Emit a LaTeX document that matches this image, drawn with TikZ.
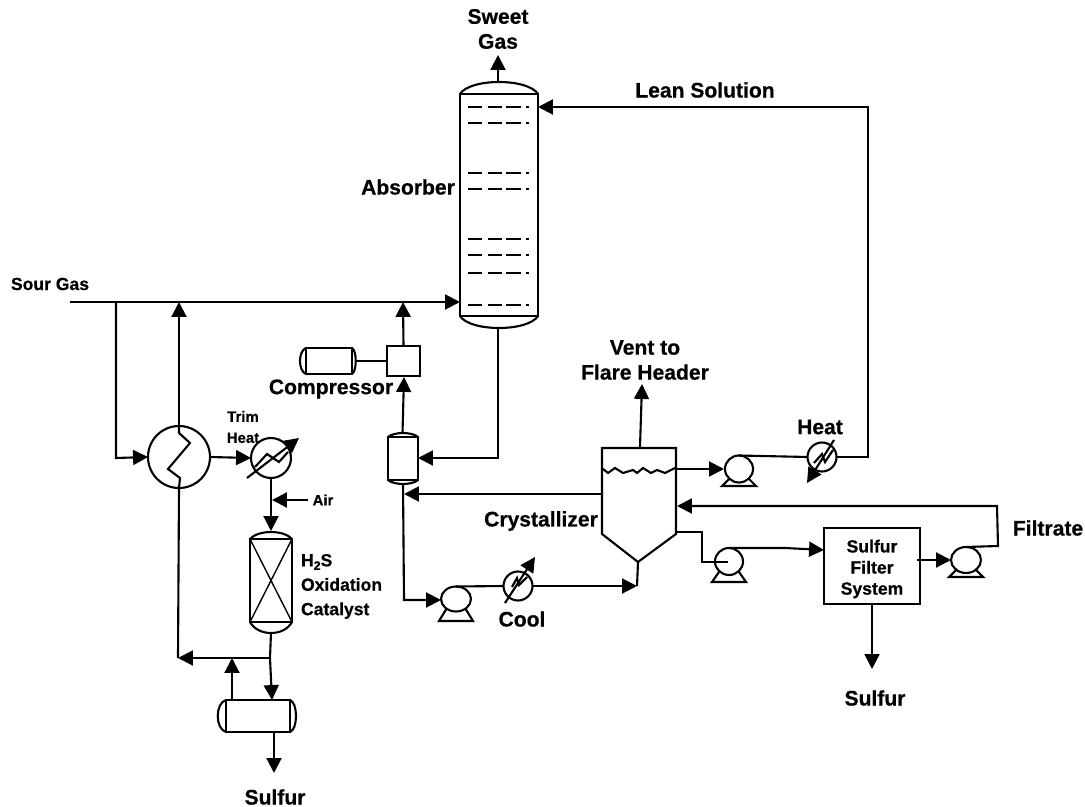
\documentclass[tikz,border=0pt]{standalone}
\usepackage{fontspec}
\setmainfont{Liberation Sans}[BoldFeatures={FakeBold=0.6}]
\usetikzlibrary{arrows.meta,shapes.geometric}

\begin{document}
\begin{tikzpicture}[x=0.02cm, y=-0.02cm, line width=1.2pt,
        >={Triangle[length=8.5pt,width=8.5pt]},
        vessel/.style={draw, rectangle, inner sep=0pt, outer sep=0pt},
        ghost/.style={rectangle, inner sep=0pt, outer sep=0pt},
        hx/.style={draw, circle, inner sep=0pt, outer sep=0pt},
        pumpbody/.style={draw, ellipse, inner sep=0pt, outer sep=0pt},
        lab/.style={font=\fontsize{12}{14.2}\selectfont\bfseries, inner sep=0pt, align=center},
        labsm/.style={font=\fontsize{10}{12}\selectfont\bfseries, inner sep=0pt, align=center},
        labxs/.style={font=\fontsize{8.5}{12}\selectfont\bfseries, inner sep=0pt, align=center}]

    \useasboundingbox (0,0) rectangle (1085,807);

    % --- zbiorniki ---
    \node[vessel, minimum width=1.56cm, minimum height=4.44cm] (abs) at (499,205) {};
    \node[vessel, minimum width=0.84cm, minimum height=1.66cm] (cat) at (271,580.5) {};
    \node[vessel, minimum width=1.28cm, minimum height=0.64cm] (drum) at (258,716) {};
    \node[vessel, minimum width=0.92cm, minimum height=0.52cm] (motor) at (329,361) {};
    \node[vessel, minimum width=0.60cm, minimum height=0.86cm] (ko) at (403,458.5) {};
    \node[vessel, minimum width=0.66cm, minimum height=0.60cm] (comp) at (403.5,361) {};
    \node[vessel, minimum width=1.92cm, minimum height=1.52cm] (filter) at (872,566) {};
    \node[ghost, minimum width=1.48cm, minimum height=1.72cm] (cry) at (639,491) {};

    % --- dennice ---
    \draw (abs.north west) .. controls (470,78) and (528,78) .. (abs.north east);
    \draw (abs.south west) .. controls (470,332) and (528,332) .. (abs.south east);
    \draw (cat.north west) .. controls (258,529.7) and (284,529.7) .. (cat.north east);
    \draw (cat.south west) .. controls (258,636.7) and (284,636.7) .. (cat.south east);
    \draw (drum.north west) .. controls (215,703) and (215,729) .. (drum.south west);
    \draw (drum.north east) .. controls (298,703) and (298,729) .. (drum.south east);
    \draw (motor.north west) .. controls (298,351) and (298,371) .. (motor.south west);
    \draw (motor.north east) .. controls (357,351) and (357,371) .. (motor.south east);
    \draw (ko.north west) .. controls (394,431.7) and (412,431.7) .. (ko.north east);
    \draw (ko.south west) .. controls (394,485.3) and (412,485.3) .. (ko.south east);

    % --- wypelnienie katalizatora ---
    \draw[line width=0.8pt] (cat.north west) -- (cat.south east);
    \draw[line width=0.8pt] (cat.north east) -- (cat.south west);

    % --- polki absorbera ---
    \foreach \y/\w in {107/1.1, 123/1.1, 173/1.7, 189/1.7, 239/1.1, 255/1.1, 273/1.7, 305/1.7} {
        \foreach \a/\b in {468/482, 488/502, 506/521, 526/529} {
            \draw[line width=\w pt] (\a,\y) -- (\b,\y);
        }
    }

    % --- krystalizator ---
    \coordinate (crytip) at (638,562);
    \draw (cry.north west) -- (cry.north east) -- (cry.south east) -- (crytip)
        -- (cry.south west) -- cycle;
    \draw (603,469) -- (608,473) -- (615,468) -- (623,473) -- (633,470) -- (637,473)
        -- (643,468) -- (651,473) -- (657,470) -- (665,473) -- (675,468);

    % --- wymienniki ---
    \node[hx, minimum size=1.24cm] (exch) at (179,457) {};
    \node[hx, minimum size=0.80cm] (trim) at (271,458) {};
    \node[hx, minimum size=0.58cm] (cool) at (518,586) {};
    \node[hx, minimum size=0.58cm] (heat) at (822,457) {};

    \draw (exch.north) -- (179,433) -- (190,443) -- (168,469) -- (180,478) -- (exch.south);
    \draw (255,467) -- (267,454) -- (279,462) -- (288,452);
    \draw (512,587) -- (517,578) -- (519,585) -- (527,577);
    \draw (814,463) -- (822,454) -- (825,462) -- (833,450);

    \foreach \n/\ax/\ay/\bx/\by in {trim/247/478/299/438, cool/505/603/535/557, heat/834/440/807/483} {
        \coordinate (\n-a) at (\ax,\ay);
        \coordinate (\n-b) at (\bx,\by);
        \draw[->] (\n-a) -- (\n-b);
    }

    % --- pompy: srodek, rozmiar, wysokosc podstawy ---
    \foreach \n/\x/\y/\w/\h/\d in {%
        pa/456/599/0.60/0.50/22,
        pb/739/469/0.56/0.54/17,
        pc/729/561.5/0.56/0.54/20.5,
        pd/966/560/0.60/0.52/17} {
        \node[pumpbody, minimum width=\w cm, minimum height=\h cm] (\n) at (\x,\y) {};
        \draw ({\x-9},{\y+9}) -- ({\x-17},{\y+\d}) -- ({\x+17},{\y+\d}) -- ({\x+9},{\y+9});
        \coordinate (\n-top) at ({\x},{\y-(\h/0.04)});
    }

    % --- punkty na liniach ---
    \foreach \n/\x/\y in {%
        gasin/70/302, gasbr/116/302, gasret/179/302, gascmp/403/302, absgas/460/302,
        exchin/116/458, recyc/178/658, catbr/270/658, catin/232/658,
        drumin/272/700, drumrec/232/700, drumout/274/732, drumend/274/773,
        airin/308/500, airend/272/500, trimend/271/531,
        abstop/498/82, sweet/498/55, absbot/498/328, kocorner/498/458, koin/418/458,
        catbot/271/633,
        kotop/402.5/433, compin/404/377, kobot/403/484, kolow/404/600, pain/441/600,
        coolin/637/586, crybot/638/562,
        vent/640/447, ventend/642/384, back/602/494, backend/404/494,
        outa/676/469, paout/724/469, heatr/868/457, leantop/868/107, leanend/538/107,
        slurry/676/532, slurrya/702/532, slurryb/702/562, pcin/728/562,
        pcmid/785/548, filtin/824/550, filtout/917/560, pdin/951/560,
        pdc/998/546, pdd/997/506, retend/677/506,
        sulf/872/604, sulfend/872/669, motend/356/361} {
        \coordinate (\n) at (\x,\y);
    }

    % --- gaz ---
    \draw[->] (gasin) -- (absgas);
    \draw[->] (gasbr) -- (exchin) -- (exch.west);
    \draw[->] (exch.north) -- (gasret);
    \draw[->] (exch.east) -- (trim.west);
    \draw[->] (trim.south) -- (trimend);
    \draw[->] (airin) -- (airend);
    \draw[->] (abstop) -- (sweet);

    % --- katalizator i skraplacz ---
    \draw[->] (catbot) -- (catbr) -- (drumin);
    \draw[->] (catbr) -- (recyc);
    \draw (recyc) -- (exch.south);
    \draw[->] (drumrec) -- (catin);
    \draw[->] (drumout) -- (drumend);

    % --- sprezarka ---
    \draw (motend) -- (comp.west);
    \draw[->] (comp.north) -- (gascmp);
    \draw[->] (kotop) -- (compin);

    % --- obieg roztworu ---
    \draw[->] (absbot) -- (kocorner) -- (koin);
    \draw[->] (kobot) -- (kolow) -- (pain);
    \draw (pa-top) -- (cool.west);
    \draw[->] (cool.east) -- (coolin);
    \draw (coolin) -- (crybot);
    \draw[->] (back) -- (backend);
    \draw[->] (vent) -- (ventend);
    \draw[->] (outa) -- (paout);
    \draw (pb-top) -- (heat.west);
    \draw[->] (heat.east) -- (heatr) -- (leantop) -- (leanend);
    \draw (slurry) -- (slurrya) -- (slurryb) -- (pcin);
    \draw[->] (pc-top) -- (pcmid) -- (filtin);
    \draw[->] (filtout) -- (pdin);
    \draw[->] (pd-top) -- (pdc) -- (pdd) -- (retend);
    \draw[->] (sulf) -- (sulfend);

    % --- opisy ---
    \node[lab] (sweetlbl) at (498,29) {Sweet\\Gas};
    \node[lab] (leanlbl) at (705,90) {Lean Solution};
    \node[lab] (abslbl) at (408,187) {Absorber};
    \node[labsm] (sourlbl) at (50,284) {Sour Gas};
    \node[lab] (complbl) at (331,389) {Compressor};
    \node[lab] (ventlbl) at (645,360) {Vent to\\Flare Header};
    \node[lab] (heatlbl) at (820,427) {Heat};
    \node[lab] (crylbl) at (541,521) {Crystallizer};
    \node[lab] (coollbl) at (522,619) {Cool};
    \node[lab] (filtlbl) at (1048,528) {Filtrate};
    \node[lab] (sulflbl) at (875,698) {Sulfur};
    \node[lab] (sulfbot) at (275,797) {Sulfur};
    \node[labxs] (trimlbl) at (243,427) {Trim\\Heat};
    \node[labxs] (airlbl) at (323,500) {Air};
    \node[labsm] (filttxt) at (872,569) {Sulfur\\Filter\\System};
    \node[labsm, anchor=north west, align=left, font=\fontsize{10}{13.9}\selectfont\bfseries] (catlbl) at (300,553) {H\raisebox{-2pt}{\fontsize{7}{7}\selectfont 2}S\\Oxidation\\Catalyst};

\end{tikzpicture}
\end{document}
